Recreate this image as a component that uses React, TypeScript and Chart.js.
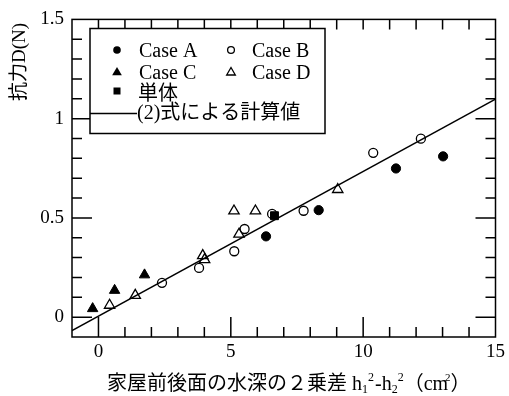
import React, { useEffect, useRef } from 'react';
import { Chart, registerables } from 'chart.js';

Chart.register(...registerables);

// ---- data ----
const caseAX = [6.33, 8.32, 11.24, 13.02];
const caseAY = [0.407, 0.539, 0.749, 0.81];
const caseBX = [2.4, 3.8, 5.13, 5.52, 6.56, 7.75, 10.38, 12.18];
const caseBY = [0.173, 0.248, 0.332, 0.444, 0.52, 0.536, 0.828, 0.899];
const caseCX = [-0.22, 0.61, 1.74];
const caseCY = [0.043, 0.135, 0.213];
const caseDX = [0.42, 1.39, 3.94, 4.01, 5.12, 5.31, 5.93, 9.04];
const caseDY = [0.06, 0.11, 0.31, 0.29, 0.535, 0.418, 0.535, 0.643];
const singleX = [6.65];
const singleY = [0.511];
const calcX = [-1, 15];
const calcY = [-0.068, 1.098];

const xTicks = [0, 5, 10, 15];
const yTicks = [0, 0.5, 1, 1.5];
const xMinorTicks = [0, 1, 2, 3, 4, 5, 6, 7, 8, 9, 10, 11, 12, 13, 14];
const xMajorTicks = [0, 5, 10];
const yMinorTicks = [0, 0.1, 0.2, 0.3, 0.4, 0.5, 0.6, 0.7, 0.8, 0.9, 1.0, 1.1, 1.2, 1.3, 1.4];
const yMajorTicks = [0, 0.5, 1];

const legendLabels = ['Case A', 'Case B', 'Case C', 'Case D', '単体', '(2)式による計算値'];
const yTitle = '抗力D(N)';
const xTitleJa = '家屋前後面の水深の２乗差';

const SERIF = '"Liberation Serif", "Noto Sans CJK JP"';
const CJK = '"Noto Sans CJK JP"';

const zip = (xs: number[], ys: number[]) => xs.map((x, i) => ({ x, y: ys[i] }));

const decorPlugin = {
  id: 'decor',
  afterDatasetsDraw(chart: any) {
    const ctx: CanvasRenderingContext2D = chart.ctx;
    const { left, right, top, bottom } = chart.chartArea;
    const xs = chart.scales.x;
    const ys = chart.scales.y;
    ctx.save();
    ctx.strokeStyle = '#000';
    ctx.fillStyle = '#000';
    ctx.lineWidth = 1.5;
    // frame
    ctx.strokeRect(left, top, right - left, bottom - top);
    // inward ticks
    ctx.beginPath();
    xMinorTicks.forEach((v) => {
      const px = xs.getPixelForValue(v);
      const len = xMajorTicks.includes(v) ? 20 : 10;
      ctx.moveTo(px, bottom);
      ctx.lineTo(px, bottom - len);
      ctx.moveTo(px, top);
      ctx.lineTo(px, top + 10);
    });
    yMinorTicks.forEach((v) => {
      const py = ys.getPixelForValue(v);
      const len = yMajorTicks.includes(v) ? 20 : 10;
      ctx.moveTo(left, py);
      ctx.lineTo(left + len, py);
      ctx.moveTo(right, py);
      ctx.lineTo(right - len, py);
    });
    ctx.stroke();
    ctx.restore();
  },
  afterDraw(chart: any) {
    const ctx: CanvasRenderingContext2D = chart.ctx;
    ctx.save();
    ctx.strokeStyle = '#000';
    ctx.fillStyle = '#000';
    // legend box
    ctx.fillStyle = '#fff';
    ctx.fillRect(90, 28.5, 235, 105);
    ctx.lineWidth = 1.5;
    ctx.strokeRect(90, 28.5, 235, 105);
    ctx.fillStyle = '#000';
    ctx.lineWidth = 1.3;
    // markers
    const circle = (x: number, y: number, r: number, fill: boolean) => {
      ctx.beginPath();
      ctx.arc(x, y, r, 0, Math.PI * 2);
      fill ? ctx.fill() : ctx.stroke();
    };
    const tri = (x: number, y: number, r: number, fill: boolean) => {
      ctx.beginPath();
      ctx.moveTo(x, y - r);
      ctx.lineTo(x + r * 0.866, y + r * 0.5);
      ctx.lineTo(x - r * 0.866, y + r * 0.5);
      ctx.closePath();
      fill ? ctx.fill() : ctx.stroke();
    };
    circle(117, 50, 3.8, true);
    circle(231, 50, 3.4, false);
    tri(117, 72.5, 5.6, true);
    tri(231, 72.5, 5, false);
    ctx.fillRect(113.5, 87.5, 7, 7);
    ctx.lineWidth = 1.5;
    ctx.beginPath();
    ctx.moveTo(90, 113.5);
    ctx.lineTo(137, 113.5);
    ctx.stroke();
    // legend text
    ctx.textAlign = 'left';
    ctx.textBaseline = 'alphabetic';
    ctx.font = `20px ${SERIF}`;
    ctx.fillText(legendLabels[0], 139, 57);
    ctx.fillText(legendLabels[1], 252, 57);
    ctx.fillText(legendLabels[2], 139, 78.5);
    ctx.fillText(legendLabels[3], 252, 78.5);
    ctx.textBaseline = 'middle';
    ctx.font = `20px ${CJK}`;
    ctx.fillText(legendLabels[4], 138, 92);
    ctx.font = `20px ${SERIF}`;
    ctx.fillText(legendLabels[5], 137, 113.5);

    // y title
    ctx.save();
    ctx.translate(20, 62);
    ctx.rotate(-Math.PI / 2);
    ctx.textAlign = 'center';
    ctx.textBaseline = 'middle';
    ctx.font = `19px ${SERIF}`;
    ctx.fillText(yTitle, 0, 0);
    ctx.restore();

    // x title
    let x = 107;
    const base = 390;
    ctx.textAlign = 'left';
    ctx.textBaseline = 'alphabetic';
    const seg = (t: string, font: string, dy = 0) => {
      ctx.font = font;
      ctx.fillText(t, x, base + dy);
      x += ctx.measureText(t).width;
    };
    const S20 = `20px ${SERIF}`;
    const S12 = `12px ${SERIF}`;
    const C20 = `20px ${CJK}`;
    seg(xTitleJa, C20);
    x += 5;
    seg('h', S20);
    seg('1', S12, 3);
    seg('2', S12, -9);
    x += 1;
    seg('-h', S20);
    seg('2', S12, 3);
    seg('2', S12, -9);
    seg('（', C20);
    seg('cm', S20);
    x -= 3;
    seg('2', `11px ${SERIF}`, -9);
    seg('）', C20);
    ctx.restore();
  },
};

export default function App() {
  const ref = useRef<HTMLCanvasElement | null>(null);
  useEffect(() => {
    if (!ref.current) return;
    const tickFont = { family: '"Liberation Serif"', size: 19 };
    const chart = new Chart(ref.current, {
      type: 'scatter',
      data: {
        datasets: [
          {
            label: legendLabels[5],
            type: 'line',
            data: zip(calcX, calcY),
            borderColor: '#000',
            borderWidth: 1.5,
            pointRadius: 0,
            fill: false,
          } as any,
          {
            label: legendLabels[0],
            data: zip(caseAX, caseAY),
            pointStyle: 'circle',
            pointRadius: 4.6,
            backgroundColor: '#000',
            borderColor: '#000',
            borderWidth: 1,
          },
          {
            label: legendLabels[1],
            data: zip(caseBX, caseBY),
            pointStyle: 'circle',
            pointRadius: 4.5,
            backgroundColor: 'rgba(0,0,0,0)',
            borderColor: '#000',
            borderWidth: 1.3,
          },
          {
            label: legendLabels[2],
            data: zip(caseCX, caseCY),
            pointStyle: 'triangle',
            pointRadius: 6,
            backgroundColor: '#000',
            borderColor: '#000',
            borderWidth: 1,
          },
          {
            label: legendLabels[3],
            data: zip(caseDX, caseDY),
            pointStyle: 'triangle',
            pointRadius: 6,
            backgroundColor: 'rgba(0,0,0,0)',
            borderColor: '#000',
            borderWidth: 1.3,
          },
          {
            label: legendLabels[4],
            data: zip(singleX, singleY),
            pointStyle: 'rect',
            pointRadius: 5.6,
            backgroundColor: '#000',
            borderColor: '#000',
            borderWidth: 1,
          },
        ],
      },
      options: {
        responsive: false,
        animation: false,
        devicePixelRatio: 1,
        layout: { padding: { top: 16, right: 10, left: 0, bottom: 0 } },
        plugins: { legend: { display: false }, tooltip: { enabled: false } },
        scales: {
          x: {
            type: 'linear',
            min: -1,
            max: 15,
            grid: { display: false, drawTicks: false },
            border: { display: false },
            afterBuildTicks: (s: any) => {
              s.ticks = xTicks.map((v) => ({ value: v }));
            },
            afterFit: (s: any) => {
              s.height = 59;
            },
            ticks: { font: tickFont, color: '#000', padding: 4, maxRotation: 0, autoSkip: false },
          },
          y: {
            type: 'linear',
            min: -0.1,
            max: 1.5,
            grid: { display: false, drawTicks: false },
            border: { display: false },
            afterBuildTicks: (s: any) => {
              s.ticks = yTicks.map((v) => ({ value: v }));
            },
            afterFit: (s: any) => {
              s.width = 72;
            },
            ticks: {
              font: tickFont,
              color: '#000',
              padding: 8,
              autoSkip: false,
              callback: (v: any) => String(v),
            },
          },
        },
      },
      plugins: [decorPlugin],
    });
    return () => chart.destroy();
  }, []);
  return (
    <div style={{ position: 'absolute', left: 0, top: 0, width: 509, height: 396, background: '#fff' }}>
      <canvas ref={ref} width={509} height={396} style={{ display: 'block' }} />
    </div>
  );
}
